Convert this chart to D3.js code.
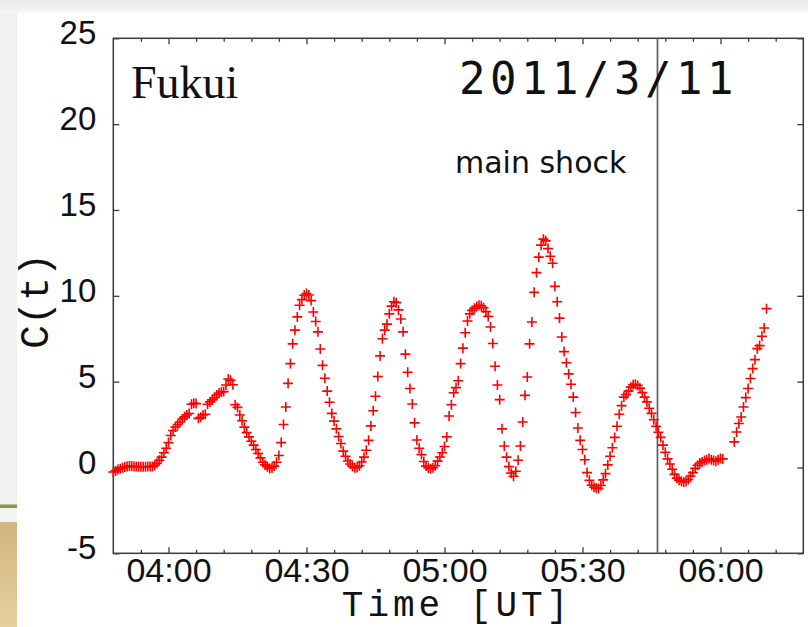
<!DOCTYPE html>
<html>
<head>
<meta charset="utf-8">
<script src="https://cdn.jsdelivr.net/npm/d3@7"></script>
<style>
  html, body { margin: 0; padding: 0; background: #ffffff; }
  svg { display: block; }
</style>
</head>
<body>
<svg id="chart" width="808" height="627"></svg>
<script>
// ---- data -------------------------------------------------------------
// C(t) sampled every 30 s starting at 03:48:00 UT; null = no sample
const startTime = "2011-03-11T03:48:00Z";
const sampleSeconds = 30;
const cValues = [
  -0.26, -0.2, -0.12, -0.07, -0.02, 0.02, 0.05, 0.08, 0.08, 0.06,
  0.05, 0.04, 0.04, 0.04, 0.04, 0.05, 0.05, 0.06, 0.12, 0.24,
  0.42, 0.6, 0.86, 1.12, 1.45, 1.86, 2.15, 2.36, 2.5, 2.65,
  2.82, 2.95, 3.06, 3.14, 3.68, 3.74, 3.72, 2.86, 2.92, 3.06,
  3.1, 3.68, 3.82, 3.94, 4.06, 4.22, 4.34, 4.4, 4.42, 4.8,
  5.15, 5.08, 4.82, 3.65, 3.5, 3.06, 2.72, 2.35, 2.03, 1.78,
  1.53, 1.3, 1.05, 0.81, 0.56, 0.3, 0.15, 0.04, -0.06, -0.03,
  0.08, 0.3, 0.7, 1.45, 2.5, 3.52, 4.9, 6.05, 7.2, 8.0,
  8.77, 9.45, 9.78, 10.03, 10.13, 10.05, 9.72, 9.06, 8.5, 7.9,
  6.9, 5.95, 5.2, 4.45, 3.8, 3.15, 2.7, 2.25, 1.8, 1.4,
  0.95, 0.65, 0.38, 0.2, 0.06, -0.02, 0.0, 0.1, 0.32, 0.6,
  1.0, 1.58, 2.42, 3.3, 4.15, 5.3, 6.5, 7.5, 8.0, 8.35,
  8.95, 9.4, 9.65, 9.6, 9.18, 8.65, 7.9, 6.6, 5.55, 4.6,
  3.7, 2.6, 1.6, 1.12, 0.75, 0.35, 0.08, -0.03, -0.07, -0.02,
  0.1, 0.37, 0.61, 0.86, 1.22, 1.78, 3.0, 3.65, 4.35, 4.65,
  5.05, 6.05, 6.95, 7.85, 8.53, 8.95, 9.15, 9.28, 9.38, 9.45,
  9.42, 9.3, 9.08, 8.8, 8.18, 7.22, 5.9, 4.8, 3.95, 2.25,
  1.25, 0.6, 0.05, -0.33, -0.51, -0.22, 0.42, 1.25, 2.65, 4.2,
  5.27, 7.2, 8.47, 10.2, 11.35, 12.25, 12.95, 13.3, 13.2, 12.75,
  12.3, 11.9, 10.55, 9.65, 8.7, 7.6, 6.75, 6.1, 5.45, 4.85,
  4.1, 3.2, 2.3, 1.58, 1.05, 0.45, -0.3, -0.75, -1.04, -1.15,
  -1.2, -1.22, -1.05, -0.72, -0.36, 0.15, 0.65, 1.15, 1.75, 2.4,
  3.1, 3.6, 4.1, 4.25, 4.45, 4.68, 4.82, 4.85, 4.78, 4.62,
  4.36, 4.1, 3.82, 3.45, 3.15, 2.78, 2.4, 2.05, 1.75, 1.3,
  0.88, 0.5, 0.2, -0.1, -0.4, -0.62, -0.74, -0.8, -0.84, -0.82,
  -0.7, -0.5, -0.3, -0.05, 0.13, 0.26, 0.32, 0.4, 0.45, 0.52,
  0.45, 0.4, 0.36, 0.45, 0.52, 0.5, null, null, null, null,
  1.49, 2.07, 2.56, 2.94, 3.52, 4.07, 4.6, 5.18, 5.76, 6.28,
  6.92, 7.1, 7.64, 8.12, 9.25
];

const xDomain = ["2011-03-11T03:48:00Z", "2011-03-11T06:18:00Z"];
const yDomain = [-5, 25];
const yTickValues = [-5, 0, 5, 10, 15, 20, 25];
const mainShockTime = "2011-03-11T05:46:18Z";

const stationName = "Fukui";
const dateLabel = "2011/3/11";
const eventLabel = "main shock";
const xTitle = "Time [UT]";
const yTitle = "C(t)";

// ---- layout -----------------------------------------------------------
const W = 808, H = 627;
const plot = { left: 113.3, right: 803.3, top: 38.3, bottom: 553.3 };

const svg = d3.select("#chart");

const x = d3.scaleUtc()
  .domain(xDomain.map(d => new Date(d)))
  .range([plot.left, plot.right]);
const y = d3.scaleLinear()
  .domain(yDomain)
  .range([plot.bottom, plot.top]);

const t0 = new Date(startTime).getTime();
const points = cValues
  .map((v, i) => ({ t: new Date(t0 + i * sampleSeconds * 1000), v }))
  .filter(d => d.v !== null);

// ---- slide backdrop around the figure ---------------------------------
const defs = svg.append("defs");
const topGrad = defs.append("linearGradient").attr("id", "topFade")
  .attr("x1", 0).attr("y1", 0).attr("x2", 0).attr("y2", 1);
topGrad.append("stop").attr("offset", "0%").attr("stop-color", "#e8e8e8");
topGrad.append("stop").attr("offset", "100%").attr("stop-color", "#f7f7f7");
const tanGrad = defs.append("linearGradient").attr("id", "tan")
  .attr("x1", 0).attr("y1", 0).attr("x2", 0).attr("y2", 1);
tanGrad.append("stop").attr("offset", "0%").attr("stop-color", "#d2b57e");
tanGrad.append("stop").attr("offset", "100%").attr("stop-color", "#e7cf9d");

svg.append("rect").attr("width", W).attr("height", H).attr("fill", "#ffffff");
svg.append("rect").attr("x", 0).attr("y", 0).attr("width", W).attr("height", 13)
  .attr("fill", "url(#topFade)");
svg.append("rect").attr("x", 0).attr("y", 13).attr("width", 17).attr("height", 492)
  .attr("fill", "#f1f1f1");
svg.append("rect").attr("x", 0).attr("y", 504.5).attr("width", 17).attr("height", 3.5)
  .attr("fill", "#8c9a36");
svg.append("rect").attr("x", 0).attr("y", 508).attr("width", 17).attr("height", 14)
  .attr("fill", "#f3f3f3");
svg.append("rect").attr("x", 0).attr("y", 522).attr("width", 17).attr("height", H - 522)
  .attr("fill", "url(#tan)");

// ---- axes ---------------------------------------------------------------
const majorTimes = d3.utcMinute.every(30).range(x.domain()[0], x.domain()[1]);
const minorTimes = d3.utcMinute.every(6)
  .range(new Date(x.domain()[0].getTime() + 1000), x.domain()[1])
  .filter(d => d.getUTCMinutes() % 30 !== 0);
const fmt = d3.utcFormat("%H:%M");

const axisColor = "#3a3a3a";
function styleAxis(g) {
  g.select(".domain").remove();
  g.selectAll(".tick line").attr("stroke", axisColor).attr("stroke-width", 1.3);
  g.selectAll(".tick text")
    .attr("fill", "#111")
    .attr("font-family", "'Liberation Sans', Arial, sans-serif");
}

// bottom
svg.append("g").attr("transform", `translate(0,${plot.bottom})`)
  .call(d3.axisBottom(x).tickValues(majorTimes).tickFormat(fmt).tickSize(-6).tickPadding(5))
  .call(styleAxis)
  .call(g => g.selectAll(".tick text").attr("font-size", 34));
svg.append("g").attr("transform", `translate(0,${plot.bottom})`)
  .call(d3.axisBottom(x).tickValues(minorTimes).tickFormat("").tickSize(-3.5))
  .call(styleAxis);
// top
svg.append("g").attr("transform", `translate(0,${plot.top})`)
  .call(d3.axisTop(x).tickValues(majorTimes).tickFormat("").tickSize(-6))
  .call(styleAxis);
svg.append("g").attr("transform", `translate(0,${plot.top})`)
  .call(d3.axisTop(x).tickValues(minorTimes).tickFormat("").tickSize(-3.5))
  .call(styleAxis);
// left (plain hyphen for negatives)
svg.append("g").attr("transform", `translate(${plot.left},0)`)
  .call(d3.axisLeft(y).tickValues(yTickValues).tickFormat(d => String(d)).tickSize(-6).tickPadding(17))
  .call(styleAxis)
  .call(g => g.selectAll(".tick text").attr("font-size", 33).attr("dy", "0.17em"));
// right
svg.append("g").attr("transform", `translate(${plot.right},0)`)
  .call(d3.axisRight(y).tickValues(yTickValues).tickFormat("").tickSize(-6))
  .call(styleAxis);

// frame
svg.append("rect")
  .attr("x", plot.left).attr("y", plot.top)
  .attr("width", plot.right - plot.left).attr("height", plot.bottom - plot.top)
  .attr("fill", "none").attr("stroke", axisColor).attr("stroke-width", 1.5);

// ---- main shock marker -------------------------------------------------
const xs = x(new Date(mainShockTime));
svg.append("line")
  .attr("x1", xs).attr("x2", xs)
  .attr("y1", plot.top).attr("y2", plot.bottom)
  .attr("stroke", "#5e5e5e").attr("stroke-width", 1.7);

// ---- data points (+ markers) -------------------------------------------
svg.append("g")
  .selectAll("path")
  .data(points)
  .join("path")
  .attr("transform", d => `translate(${x(d.t)},${y(d.v)})`)
  .attr("d", "M-5,0H5M0,-5V5")
  .attr("stroke", "#ff0000")
  .attr("stroke-width", 1.6)
  .attr("fill", "none");

// ---- annotations ---------------------------------------------------------
svg.append("text")
  .attr("x", 131).attr("y", 98)
  .attr("font-family", "'Liberation Serif', 'Times New Roman', serif")
  .attr("font-size", 46)
  .attr("fill", "#111")
  .text(stationName);

svg.append("text")
  .attr("x", 459).attr("y", 94)
  .attr("font-family", "'DejaVu Sans Mono', monospace")
  .attr("font-size", 44)
  .attr("letter-spacing", 4.5)
  .attr("fill", "#111")
  .text(dateLabel);

svg.append("text")
  .attr("x", 455).attr("y", 173)
  .attr("font-family", "'DejaVu Sans', sans-serif")
  .attr("font-size", 30)
  .attr("fill", "#111")
  .text(eventLabel);

// axis titles
svg.append("text")
  .attr("x", 457).attr("y", 616)
  .attr("text-anchor", "middle")
  .attr("font-family", "'Liberation Mono', 'Courier New', monospace")
  .attr("font-size", 36)
  .attr("letter-spacing", 4)
  .attr("fill", "#111")
  .text(xTitle);

svg.append("text")
  .attr("transform", `translate(48,301) rotate(-90)`)
  .attr("text-anchor", "middle")
  .attr("font-family", "'Liberation Mono', 'Courier New', monospace")
  .attr("font-size", 40)
  .attr("fill", "#111")
  .text(yTitle);
</script>
</body>
</html>
